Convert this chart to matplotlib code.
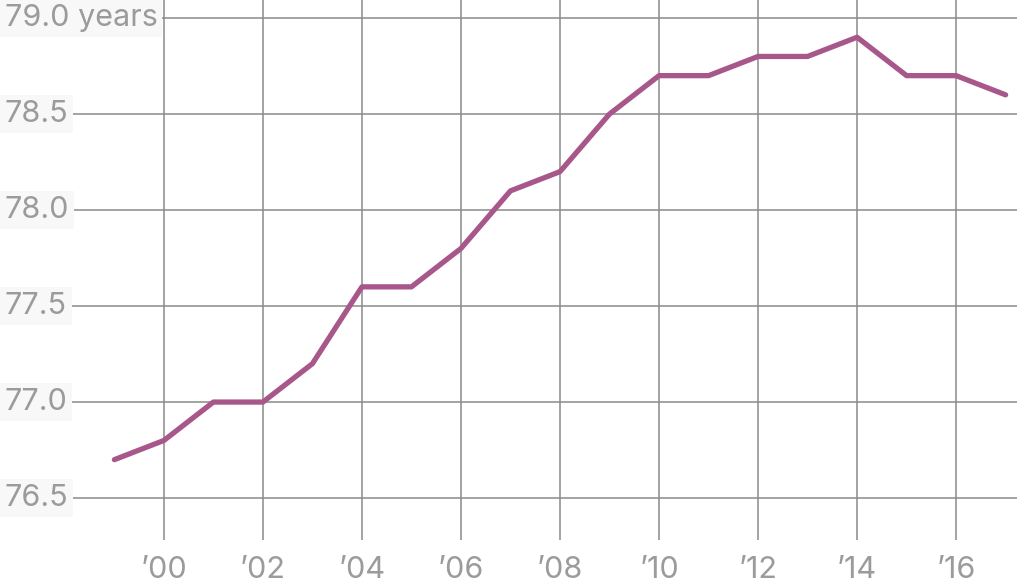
import matplotlib.pyplot as plt
import matplotlib.transforms as mtransforms

plt.rcParams['font.family'] = ['Inter', 'DejaVu Sans']

# Data
years = list(range(1999, 2018))
life_exp = [76.7, 76.8, 77.0, 77.0, 77.2, 77.6, 77.6, 77.8, 78.1, 78.2,
            78.5, 78.7, 78.7, 78.8, 78.8, 78.9, 78.7, 78.7, 78.6]
y_ticks = [76.5, 77.0, 77.5, 78.0, 78.5, 79.0]
y_labels = ['76.5', '77.0', '77.5', '78.0', '78.5', '79.0 years']
x_ticks = [2000, 2002, 2004, 2006, 2008, 2010, 2012, 2014, 2016]
x_labels = ['\u201900', '\u201902', '\u201904', '\u201906', '\u201908',
            '\u201910', '\u201912', '\u201914', '\u201916']

fig = plt.figure(figsize=(10.17, 5.86), dpi=100)
ax = fig.add_axes([0, 0, 1, 1])
ax.set_axis_off()
ax.set_xlim(1996.69, 2017.23)
ax.set_ylim(76.042, 79.094)

grid_color = '#8a8a8a'
text_color = '#9b9b9b'

# grid
for y in y_ticks:
    ax.axhline(y, xmin=4 / 1017, xmax=1, color=grid_color, lw=1.1, zorder=1)
ax.vlines(x_ticks, 76.281, 79.094, color=grid_color, lw=1.1, zorder=1)

# line
ax.plot(years, life_exp, color='#a8578a', lw=3.8, solid_capstyle='round',
        solid_joinstyle='round', zorder=2)

# y labels
ytrans = mtransforms.blended_transform_factory(ax.transAxes, ax.transData)
for y, lab in zip(y_ticks, y_labels):
    ax.text(5 / 1017, y, lab, transform=ytrans, ha='left', va='center',
            fontsize=22, color=text_color, zorder=3,
            bbox=dict(boxstyle='square,pad=0.15', fc='#f8f8f8', ec='none'))

# x labels
xtrans = mtransforms.blended_transform_factory(ax.transData, ax.transAxes)
for x, lab in zip(x_ticks, x_labels):
    ax.text(x, 1 - 570 / 586, lab, transform=xtrans, ha='center', va='center',
            fontsize=22, color=text_color, zorder=3)

fig.savefig('out.png', dpi=100)
